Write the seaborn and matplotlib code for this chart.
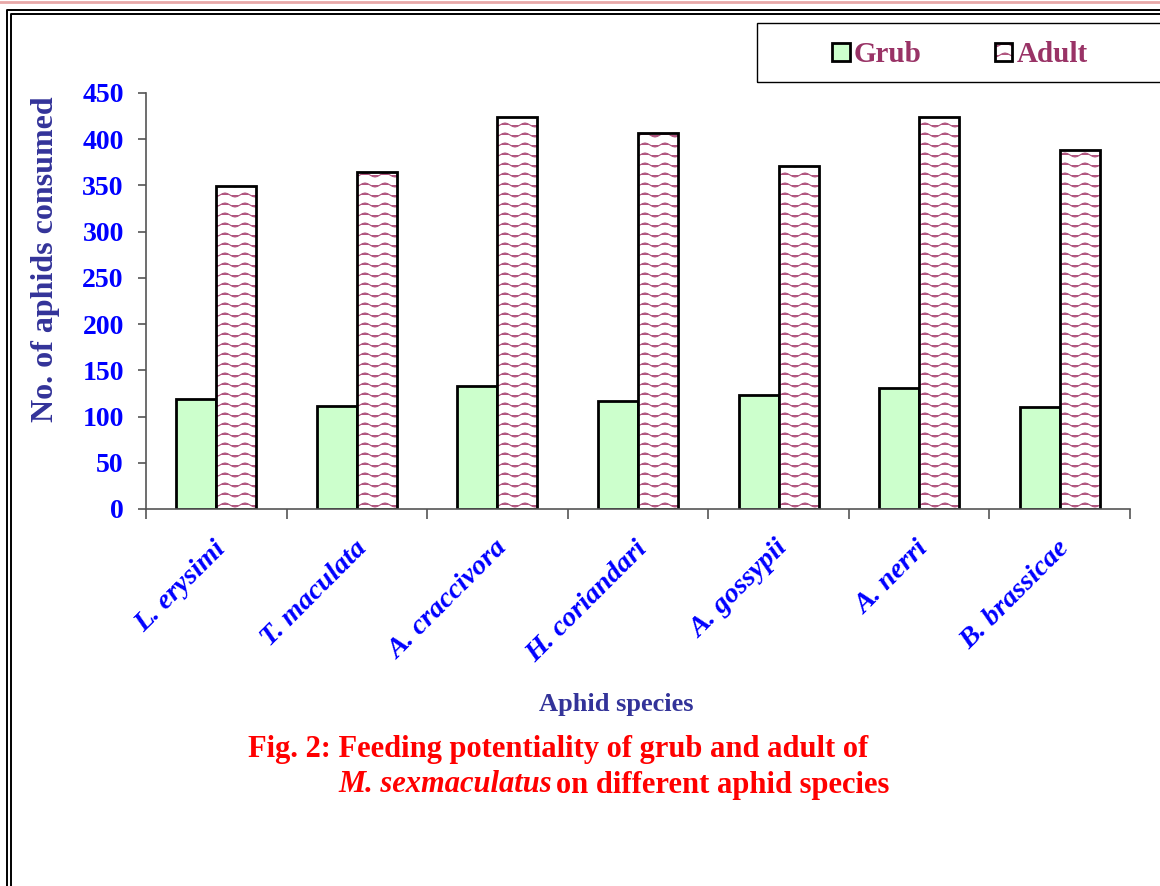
import warnings

import matplotlib
matplotlib.use("Agg")
import matplotlib.hatch as mhatch
import matplotlib.pyplot as plt
import matplotlib.transforms as mtransforms
import numpy as np
import pandas as pd
import seaborn as sns
from matplotlib.colors import to_rgba
from matplotlib.lines import Line2D
from matplotlib.patches import Rectangle
from matplotlib.path import Path

warnings.filterwarnings("ignore")

# ---------------------------------------------------------------------------
# Data
# ---------------------------------------------------------------------------
species = ["L. erysimi", "T. maculata", "A. craccivora", "H. coriandari",
           "A. gossypii", "A. nerri", "B. brassicae"]
grub = [119, 111, 133, 117, 123, 131, 110]
adult = [349, 365, 424, 407, 371, 424, 388]
stages = ["Grub", "Adult"]
yticks = [0, 50, 100, 150, 200, 250, 300, 350, 400, 450]

W, H = 1160, 886
BLUE = "#0000FF"
NAVY = "#333399"
PLUM = "#993366"


# wavy hatch like the Excel "wave" fill
class WaveHatch(mhatch.HatchPatternBase):
    def __init__(self, hatch, density):
        self.num_lines = hatch.count("w") * 10
        self.npts = 41
        self.num_vertices = self.num_lines * self.npts

    def set_vertices_and_codes(self, vertices, codes):
        t = np.linspace(0, 1, self.npts)
        for i in range(self.num_lines):
            s = slice(i * self.npts, (i + 1) * self.npts)
            vertices[s, 0] = t
            vertices[s, 1] = (i + 0.5) / self.num_lines + 0.02 * np.sin(2 * np.pi * 5 * t)
            codes[s] = Path.LINETO
            codes[i * self.npts] = Path.MOVETO


mhatch._hatch_types.append(WaveHatch)

plt.rcParams["font.family"] = ["Liberation Serif", "DejaVu Serif"]
plt.rcParams["font.weight"] = "bold"
plt.rcParams["hatch.linewidth"] = 0.8


def fx(px):
    return px / W


def fy(py):
    return 1 - py / H


df = pd.DataFrame({
    "species": species * 2,
    "count": grub + adult,
    "stage": [stages[0]] * len(species) + [stages[1]] * len(species),
})

fig = plt.figure(figsize=(W / 100, H / 100), dpi=100)
ax = fig.add_axes([fx(146), fy(509), (1130 - 146) / W, 416 / H])

sns.barplot(data=df, x="species", y="count", hue="stage", hue_order=stages,
            palette={"Grub": "#CCFFCC", "Adult": "white"}, saturation=1,
            edgecolor="black", linewidth=2, width=0.57, gap=0,
            legend=False, ax=ax)

for bar in ax.containers[1]:
    bar.set_hatch("w")
    if hasattr(bar, "set_hatchcolor"):
        bar.set_hatchcolor("#B0557F")
    else:
        bar._hatch_color = to_rgba("#B0557F")

ax.set_xlim(-0.5, len(species) - 0.5)
ax.set_ylim(0, 450)
ax.set_yticks(yticks)
ax.set_yticklabels([str(v) for v in yticks], color=BLUE, fontsize=20, fontweight="bold")

# category labels, rotated like the Excel axis
ax.set_xticks(range(len(species)))
ax.set_xticklabels([])
lab_trans = mtransforms.offset_copy(ax.get_xaxis_transform(), fig=fig,
                                    x=6, y=-36, units="dots")
for i, name in enumerate(species):
    ax.text(i, 0, name, transform=lab_trans, rotation=45, ha="right",
            va="center", rotation_mode="anchor", color=BLUE, fontsize=20.5,
            fontweight="bold", fontstyle="italic")

ax.set_xticks(np.arange(-0.5, len(species)), minor=True)
ax.tick_params(axis="x", which="major", length=0)
ax.tick_params(axis="x", which="minor", length=7, width=1.2, color="#555555")
ax.tick_params(axis="y", length=6, width=1.2, color="#555555", pad=10)
ax.set_xlabel("")
ax.set_ylabel("")
for side in ["top", "right"]:
    ax.spines[side].set_visible(False)
for side in ["left", "bottom"]:
    ax.spines[side].set_color("#555555")
    ax.spines[side].set_linewidth(1.2)

fig.text(fx(46), fy(259), "No. of aphids consumed", rotation=90, ha="center",
         va="center", color=NAVY, fontsize=23, fontweight="bold")
fig.text(fx(616), fy(704), "Aphid species", ha="center", va="center",
         color=NAVY, fontsize=19, fontweight="bold")

# caption
fig.text(fx(248), fy(750), "Fig. 2: Feeding potentiality of grub and adult of",
         ha="left", va="center", color="red", fontsize=22, fontweight="bold")
fig.text(fx(338), fy(785), "M. sexmaculatus", ha="left", va="center",
         color="red", fontsize=22, fontweight="bold", fontstyle="italic")
fig.text(fx(556), fy(785), "on different aphid species", ha="left", va="center",
         color="red", fontsize=22, fontweight="bold")

# legend box + legend
fig.add_artist(Rectangle((fx(757), fy(82)), fx(1175) - fx(757), fy(23) - fy(82),
                         transform=fig.transFigure, fill=False,
                         edgecolor="black", linewidth=1))
leg = fig.legend(handles=[ax.containers[0][0], ax.containers[1][0]], labels=stages,
                 loc="center", bbox_to_anchor=(fx(960), fy(55)), ncol=2,
                 frameon=False, fontsize=21, handlelength=0.6, handleheight=0.6,
                 handletextpad=0.15, columnspacing=2.5)
for t in leg.get_texts():
    t.set_color(PLUM)
    t.set_fontweight("bold")

# page border lines
fig.add_artist(Line2D([0, 1], [fy(1.5), fy(1.5)], transform=fig.transFigure,
                      color="#E8A8A8", linewidth=2))
for x0, y0 in [(7, 10), (11, 14)]:
    fig.add_artist(Line2D([fx(x0), fx(x0), 1], [0, fy(y0), fy(y0)],
                          transform=fig.transFigure, color="black", linewidth=1.4))

fig.savefig("out.png", dpi=100)
